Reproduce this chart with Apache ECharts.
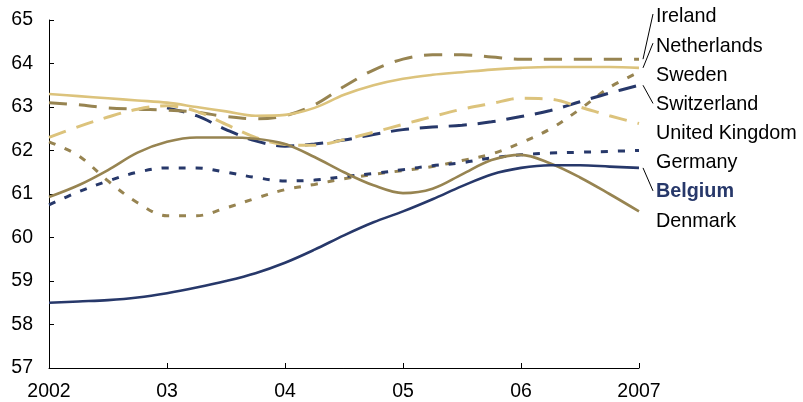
<!DOCTYPE html>
<html>
<head>
<meta charset="utf-8">
<script src="https://cdn.jsdelivr.net/npm/echarts@6/dist/echarts.min.js"></script>
<style>html,body{margin:0;padding:0;background:#fff}#c{width:803px;height:402px}</style>
</head>
<body>
<div id="c"></div>
<script>
// Quarterly time points (years)
const quarters = [2002, 2002.25, 2002.5, 2002.75, 2003, 2003.25, 2003.5, 2003.75, 2004, 2004.25, 2004.5, 2004.75, 2005, 2005.25, 2005.5, 2005.75, 2006, 2006.25, 2006.5, 2006.75, 2007];
const xTickLabels = {2002: '2002', 2003: '03', 2004: '04', 2005: '05', 2006: '06', 2007: '2007'};
const yTicks = [57, 58, 59, 60, 61, 62, 63, 64, 65];

const ireland     = [63.1, 63.05, 62.98, 62.95, 62.93, 62.88, 62.78, 62.73, 62.8, 63.05, 63.47, 63.85, 64.1, 64.2, 64.2, 64.15, 64.1, 64.1, 64.1, 64.1, 64.1];
const netherlands = [63.3, 63.25, 63.2, 63.15, 63.1, 63.0, 62.9, 62.8, 62.82, 62.98, 63.28, 63.5, 63.65, 63.74, 63.8, 63.86, 63.9, 63.92, 63.92, 63.92, 63.9];
const sweden      = [62.2, 61.88, 61.3, 60.8, 60.5, 60.5, 60.68, 60.9, 61.1, 61.22, 61.35, 61.45, 61.54, 61.63, 61.77, 61.92, 62.18, 62.5, 62.95, 63.45, 63.8];
const switzerland = [null, null, null, null, 62.98, 62.8, 62.48, 62.22, 62.1, 62.15, 62.24, 62.37, 62.48, 62.54, 62.58, 62.66, 62.78, 62.92, 63.12, 63.32, 63.5];
const unitedKingdom = [62.3, 62.55, 62.77, 62.95, 63.03, 62.9, 62.6, 62.3, 62.14, 62.12, 62.25, 62.42, 62.6, 62.78, 62.95, 63.08, 63.2, 63.18, 63.0, 62.8, 62.62];
const germany     = [60.75, 61.05, 61.3, 61.5, 61.6, 61.6, 61.5, 61.38, 61.3, 61.32, 61.4, 61.47, 61.56, 61.65, 61.72, 61.83, 61.9, 61.94, 61.96, 61.98, 62.0];
const belgium     = [58.5, 58.53, 58.56, 58.62, 58.72, 58.85, 59.0, 59.18, 59.42, 59.72, 60.05, 60.35, 60.6, 60.88, 61.18, 61.45, 61.6, 61.66, 61.66, 61.63, 61.6];
const denmark     = [60.93, 61.2, 61.55, 61.95, 62.2, 62.3, 62.3, 62.27, 62.15, 61.85, 61.5, 61.2, 61.02, 61.12, 61.45, 61.78, 61.9, 61.7, 61.38, 61.0, 60.6];

const seriesNames = ['Ireland', 'Netherlands', 'Sweden', 'Switzerland', 'United Kingdom', 'Germany', 'Belgium', 'Denmark'];
const seriesValues = [ireland, netherlands, sweden, switzerland, unitedKingdom, germany, belgium, denmark];

const NAVY = '#27386a', DARK = '#978451', LIGHT = '#dcc37c';
const styles = {
  'Ireland':        {color: DARK,  type: [18, 12], width: 3, z: 3},
  'Netherlands':    {color: LIGHT, type: 'solid',  width: 2.6, z: 4},
  'Sweden':         {color: DARK,  type: [7, 10],  width: 3, z: 2},
  'Switzerland':    {color: NAVY,  type: [18, 11], width: 3, z: 2},
  'United Kingdom': {color: LIGHT, type: [18, 11], width: 3, z: 3},
  'Germany':        {color: NAVY,  type: [7, 10],  width: 3, z: 2},
  'Belgium':        {color: NAVY,  type: 'solid',  width: 2.6, z: 4},
  'Denmark':        {color: DARK,  type: 'solid',  width: 2.6, z: 3}
};
const withConnector = ['Ireland', 'Netherlands', 'Switzerland', 'Belgium'];

const chart = echarts.init(document.getElementById('c'), null, {renderer: 'canvas'});
const FONT = '"Liberation Sans", Arial, sans-serif';

const series = seriesNames.map((name, i) => ({
  name: name,
  type: 'line',
  smooth: 0.35,
  symbol: 'none',
  connectNulls: false,
  z: styles[name].z,
  lineStyle: {color: styles[name].color, width: styles[name].width, type: styles[name].type, cap: 'butt'},
  data: quarters.map((q, k) => [q, seriesValues[i][k]]),
  animation: false
}));

chart.setOption({
  animation: false,
  grid: {left: 49, right: 164, top: 20, bottom: 32, containLabel: false},
  xAxis: {
    type: 'value', min: 2002, max: 2007, interval: 1,
    axisLine: {lineStyle: {color: '#000', width: 1}},
    axisTick: {inside: true, length: 5, lineStyle: {color: '#000'}},
    splitLine: {show: false},
    axisLabel: {margin: 14, color: '#000', fontSize: 19.5, fontFamily: FONT,
      formatter: v => xTickLabels[v] || ''}
  },
  yAxis: {
    type: 'value', min: yTicks[0], max: yTicks[yTicks.length - 1], interval: 1,
    axisLine: {show: true, lineStyle: {color: '#000', width: 1}},
    axisTick: {show: true, inside: true, length: 5, lineStyle: {color: '#000'}},
    splitLine: {show: false},
    axisLabel: {margin: 16, color: '#000', fontSize: 19.5, fontFamily: FONT, padding: [3, 0, 0, 0]}
  },
  series: series
});

// Right-hand labels with connectors
const labelX = 656, labelTop = 17, labelStep = 29.15;
const graphics = [];
seriesNames.forEach((name, i) => {
  const ly = labelTop + i * labelStep;
  const isBel = name === 'Belgium';
  graphics.push({
    type: 'text', left: labelX, top: ly - 10,
    style: {text: name, fill: isBel ? NAVY : '#000', font: (isBel ? 'bold ' : '') + '19.8px ' + FONT}
  });
  if (withConnector.indexOf(name) >= 0) {
    const vals = seriesValues[i];
    const end = chart.convertToPixel({gridIndex: 0}, [quarters[quarters.length - 1], vals[vals.length - 1]]);
    graphics.push({
      type: 'line',
      shape: {x1: end[0] + 4, y1: end[1], x2: labelX - 3, y2: ly + (end[1] < ly ? -1 : -3) },
      style: {stroke: '#000', lineWidth: 1}
    });
  }
});
chart.setOption({graphic: graphics});
</script>
</body>
</html>
